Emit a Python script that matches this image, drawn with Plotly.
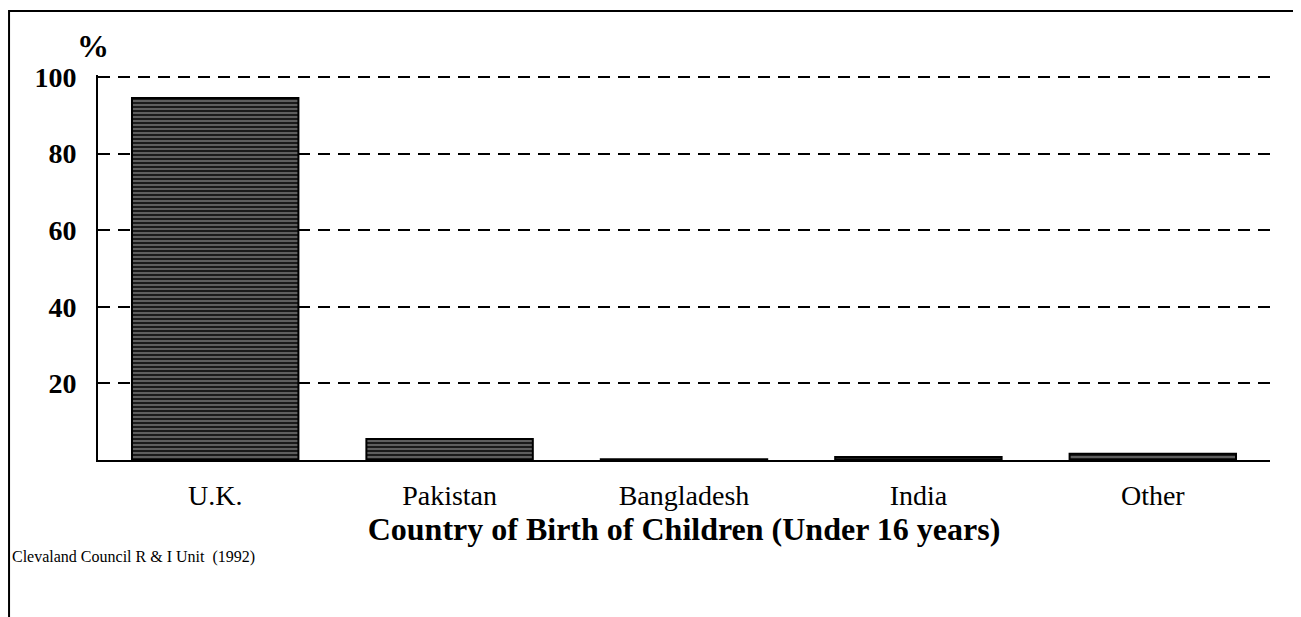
import plotly.graph_objects as go

categories = ["U.K.", "Pakistan", "Bangladesh", "India", "Other"]
values = [94.5, 5.5, 0.2, 0.8, 1.6]
y_ticks = [20, 40, 60, 80, 100]
x_title = "Country of Birth of Children (Under 16 years)"
source = "Clevaland Council R &amp; I Unit  (1992)"

SERIF = "Liberation Serif, Times New Roman, serif"

fig = go.Figure()
fig.add_trace(go.Bar(
    x=categories, y=values,
    marker=dict(
        color="#1a1a1a",
        line=dict(color="black", width=2),
        pattern=dict(shape="-", fgcolor="white", size=4, solidity=0.3, fillmode="overlay"),
    ),
    hoverinfo="x+y",
))

fig.update_layout(
    width=1301, height=617,
    margin=dict(l=90, r=39, t=67, b=165),
    paper_bgcolor="white", plot_bgcolor="white",
    bargap=0.29, showlegend=False,
    font=dict(family=SERIF, color="black"),
)
fig.update_xaxes(
    showline=True, linecolor="black", linewidth=2,
    showgrid=False, ticks="", ticklabelstandoff=9,
    tickfont=dict(family=SERIF, size=28, color="black"),
    title=dict(text="<b>" + x_title + "</b>", font=dict(family=SERIF, size=32, color="black"), standoff=4),
)
fig.update_yaxes(
    range=[0, 100.5], tickvals=y_ticks, ticktext=["<b>" + str(v) + "</b>" for v in y_ticks],
    showline=True, linecolor="black", linewidth=2,
    showgrid=True, gridcolor="black", gridwidth=1.5, griddash="12px,8px",
    zeroline=False, ticks="", ticklabelstandoff=14,
    tickfont=dict(family=SERIF, size=28, color="black"),
)

fig.add_annotation(text="<b>%</b>", x=-0.0043, y=1.075, xref="paper", yref="paper",
                   xanchor="center", yanchor="middle",
                   showarrow=False, font=dict(family=SERIF, size=32, color="black"))
fig.add_annotation(text=source, xref="paper", yref="paper", x=-0.0751, y=-0.252,
                   xanchor="left", yanchor="middle", showarrow=False,
                   font=dict(family=SERIF, size=16, color="black"))

# frame around figure
fig.add_shape(type="rect", xref="paper", yref="paper", x0=-0.0759, x1=1.0239, y0=-0.5, y1=1.166,
              line=dict(color="black", width=2), layer="below")
fig.write_html("out.html")
